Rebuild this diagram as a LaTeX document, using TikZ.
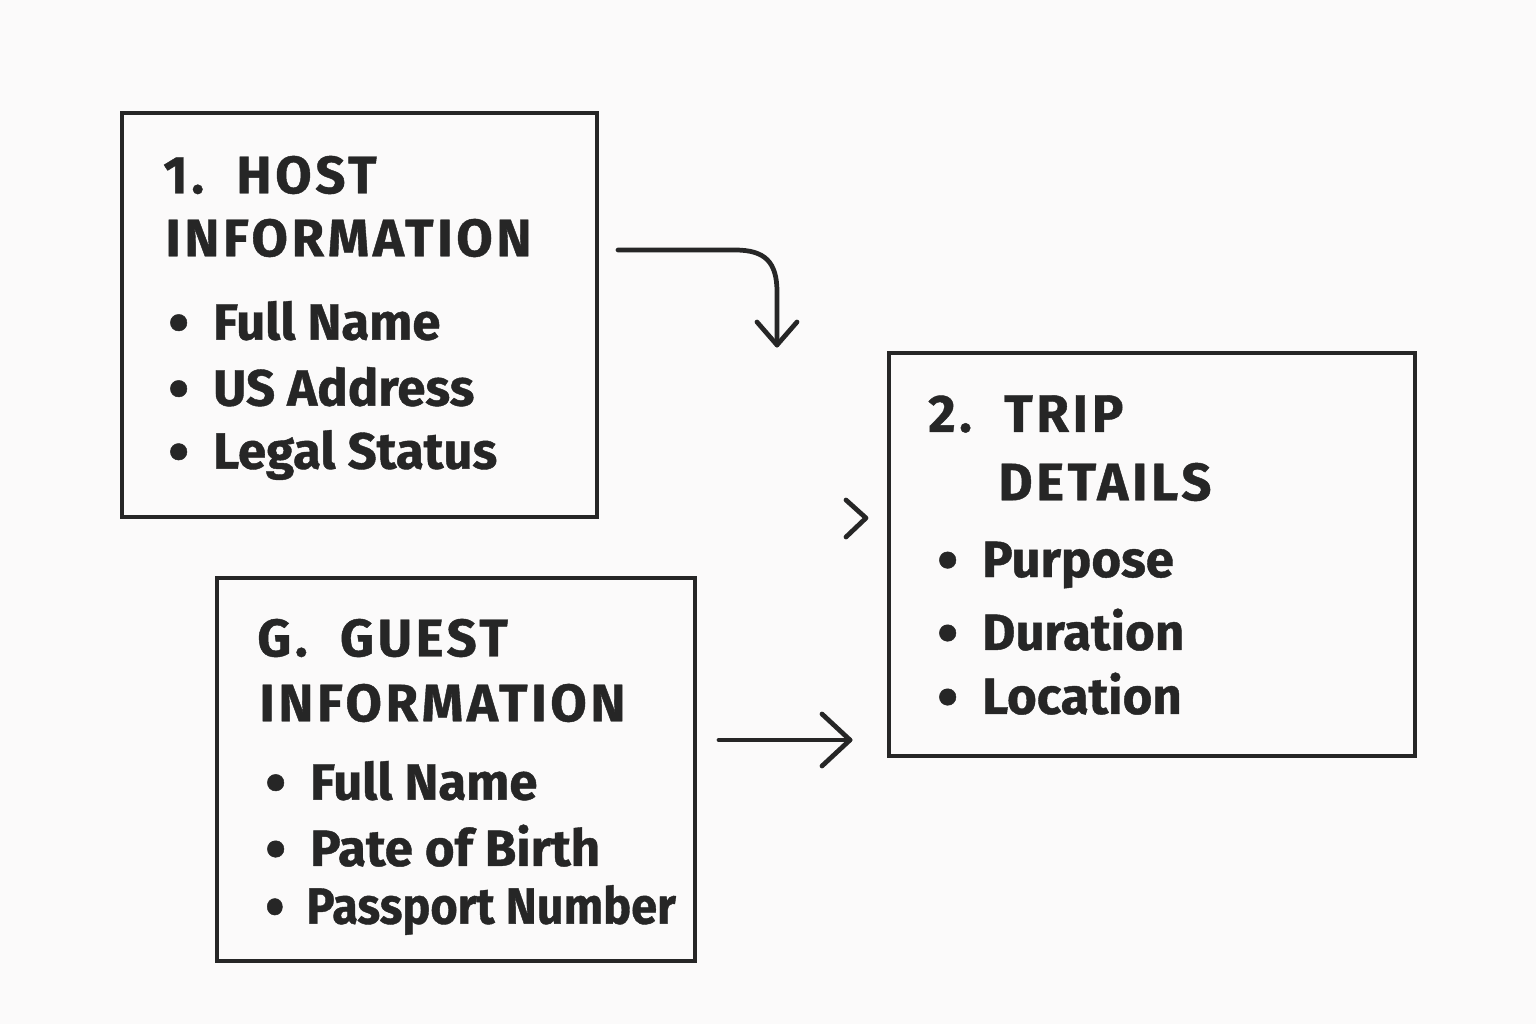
\documentclass[tikz,border=0pt]{standalone}
\usepackage{fontspec}
\setmainfont{Fira Sans}[FakeBold=0.8]
\newcommand{\bul}{\raisebox{-2pt}{\fontsize{34}{34}\selectfont\textbullet}\ \ }
\begin{document}
\begin{tikzpicture}[x=0.02cm,y=-0.02cm,
  box/.style={draw=black!85,line width=2.4pt},
  txt/.style={anchor=west,inner sep=0pt,font=\fontsize{29}{30}\selectfont\bfseries,text=black!85},
  hd/.style={txt,font=\fontsize{30}{32}\selectfont\bfseries\addfontfeatures{LetterSpace=7}},
  con/.style={draw=black!85,line width=2.7pt,line cap=round,line join=round}]
\fill[white!97!yellow!60!gray!10] (0,0) rectangle (1536,1024);
\useasboundingbox (0,0) rectangle (1536,1024);
\draw[box] (122,113) rectangle (597,517);
\draw[box] (889,353) rectangle (1415,756);
\draw[box] (217,578) rectangle (695,961);
% host
\node[hd] (h1) at (163,175) {1.\ \ HOST};
\node[hd] (h2) at (165,238) {INFORMATION};
\node[txt] (h3) at (168,322) {\bul Full Name};
\node[txt] (h4) at (168,388) {\bul US Address};
\node[txt] (h5) at (168,455) {\bul Legal Status};
% trip
\node[hd] (t1) at (928,414) {2.\ \ TRIP};
\node[hd] (t2) at (998,482) {DETAILS};
\node[txt] (t3) at (937,565) {\bul Purpose};
\node[txt] (t4) at (937,631) {\bul Duration};
\node[txt] (t5) at (937,695) {\bul Location};
% guest
\node[hd] (g1) at (257,638) {G.\ \ GUEST};
\node[hd] (g2) at (259,703) {INFORMATION};
\node[txt] (g3) at (265,782) {\bul Full Name};
\node[txt] (g4) at (265,847) {\bul Pate of Birth};
\node[txt,xscale=0.92] (g5) at (265,910) {\bul Passport Number};
% arrows
\coordinate (a0) at (618,250);
\coordinate (a1) at (777,345);
\draw[con] (a0) -- (735,250) .. controls (765,250) and (777,262) .. (777,292) -- (a1);
\draw[con] (757,322) -- (a1) -- (797,322);
\coordinate (b0) at (719,740);
\coordinate (b1) at (850,740);
\draw[con] (b0) -- (b1);
\draw[con] (822,714) -- (b1) -- (822,766);
\coordinate (c1) at (866,518);
\draw[con] (846,500) -- (c1) -- (846,537);
\end{tikzpicture}
\end{document}
